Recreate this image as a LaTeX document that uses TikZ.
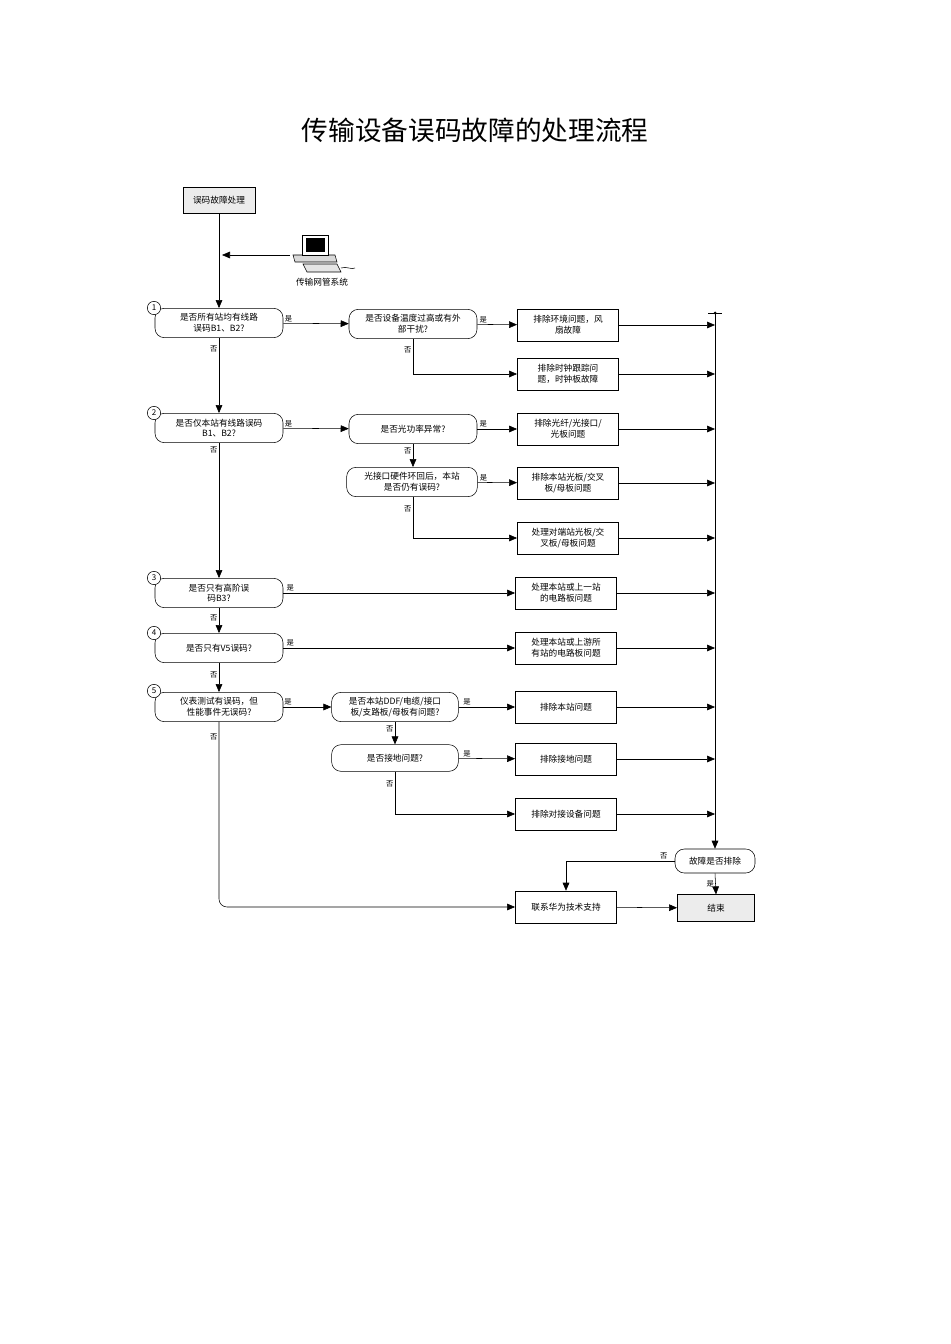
\documentclass[tikz,border=0pt]{standalone}
\usepackage{fontspec}
\setmainfont{Noto Sans CJK SC}
\usetikzlibrary{arrows.meta,positioning}
\begin{document}
\begin{tikzpicture}[x=0.75pt,y=-0.75pt,
  every node/.style={font=\fontsize{6.5pt}{8pt}\selectfont, align=center, inner sep=1pt},
  dec/.style={draw, rounded corners=7pt, minimum width=96pt, minimum height=22pt},
  box/.style={draw, minimum width=76pt, minimum height=24pt},
  gbox/.style={box, fill=gray!15},
  arr/.style={-{Triangle[length=6pt,width=5pt]}, thin},
  lab/.style={font=\fontsize{5.5pt}{6pt}\selectfont},
  num/.style={draw, circle, fill=white, inner sep=0.5pt, minimum size=10pt, font=\fontsize{6pt}{6pt}\selectfont}]
\useasboundingbox (0,0) rectangle (950,1344);
\node[font=\fontsize{20pt}{24pt}\selectfont] (title) at (475,130) {传输设备误码故障的处理流程};
\node[gbox, minimum width=54pt, minimum height=19.5pt] (start) at (219,200) {误码故障处理};
% computer icon
\begin{scope}[shift={(315,250)}]
  \draw[fill=gray!30] (-22,5) -- (20,5) -- (22,12) -- (-20,12) -- cycle;
  \draw[fill=white] (-13,-15) rectangle (13,5);
  \fill[black] (-9,-12) rectangle (10,2);
  \draw[fill=gray!20] (-12,14) -- (22,14) -- (26,22) -- (-8,22) -- cycle;
  \draw (26,18) .. controls (32,16) and (36,20) .. (40,18);
\end{scope}
\coordinate (cpu) at (290,255);
\node (cpulab) at (322,282) {传输网管系统};
\coordinate (cpuin) at (222,255);
\node[dec] (d1) at (219,323) {是否所有站均有线路\\误码B1、B2?};
\node[num] at (154,308) {1};
\node[dec] (d1a) at (413,324) {是否设备温度过高或有外\\部干扰?};
\node[box] (r1) at (568,325) {排除环境问题，风\\扇故障};
\node[box] (r2) at (568,374) {排除时钟跟踪问\\题，时钟板故障};
\node[dec] (d2) at (219,428) {是否仅本站有线路误码\\B1、B2?};
\node[num] at (154,413) {2};
\node[dec] (d2a) at (413,429) {是否光功率异常?};
\node[box] (r3) at (568,429) {排除光纤/光接口/\\光板问题};
\node[dec, minimum width=98pt] (d2b) at (412,482) {光接口硬件环回后，本站\\是否仍有误码?};
\node[box] (r4) at (568,483) {排除本站光板/交叉\\板/母板问题};
\node[box] (r5) at (568,538) {处理对端站光板/交\\叉板/母板问题};
\node[dec] (d3) at (219,593) {是否只有高阶误\\码B3?};
\node[num] at (154,578) {3};
\node[box] (r6) at (566,593) {处理本站或上一站\\的电路板问题};
\node[dec] (d4) at (219,648) {是否只有V5误码?};
\node[num] at (154,633) {4};
\node[box] (r7) at (566,648) {处理本站或上游所\\有站的电路板问题};
\node[dec] (d5) at (219,707) {仪表测试有误码，但\\性能事件无误码?};
\node[num] at (154,691) {5};
\node[dec, minimum width=95pt] (d5a) at (395,707) {是否本站DDF/电缆/接口\\板/支路板/母板有问题?};
\node[box] (r8) at (566,707) {排除本站问题};
\node[dec, minimum width=95pt, minimum height=20pt] (d5b) at (395,758) {是否接地问题?};
\node[box] (r9) at (566,759) {排除接地问题};
\node[box] (r10) at (566,814) {排除对接设备问题};
\node[dec, minimum width=60pt, minimum height=18pt] (e) at (715,861) {故障是否排除};
\node[box] (contact) at (566,907) {联系华为技术支持};
\node[gbox, minimum width=58pt, minimum height=20pt] (end) at (716,908) {结束};
% right collector line
\coordinate (top) at (715,313);
\fill (top) circle (1.5);
\draw (708,313) -- (722,313);
\draw[arr] (top) -- (e.north);
\foreach \r/\y in {r1/325,r2/374,r3/429,r4/483,r5/538,r6/593,r7/648,r8/707,r9/759,r10/814}
  \draw[arr] (\r.east) -- (715,\y);
% connectors
\draw[arr] (start) -- (d1);
\draw[arr] (cpu) -- (cpuin);
\draw[arr] (d1) -- node[lab, above, pos=0.08]{是} (d1a);
\draw[arr] (d1) -- node[lab, left, pos=0.15]{否} (d2);
\draw[arr] (d1a) -- node[lab, above, pos=0.15]{是} (r1);
\draw[arr] (d1a.south) |- node[lab, left, pos=0.15]{否} (r2);
\draw[arr] (d2) -- node[lab, above, pos=0.08]{是} (d2a);
\draw[arr] (d2a) -- node[lab, above, pos=0.15]{是} (r3);
\draw[arr] (d2a.south) -- node[lab, left, pos=0.3]{否} (d2b.north -| d2a.south);
\draw[arr] (d2b) -- node[lab, above, pos=0.15]{是} (r4);
\draw[arr] (d2b.south -| d2a.south) |- node[lab, left, pos=0.15]{否} (r5);
\draw[arr] (d2) -- node[lab, left, pos=0.05]{否} (d3);
\draw[arr] (d3) -- node[lab, above, pos=0.03]{是} (r6);
\draw[arr] (d3) -- node[lab, left, pos=0.4]{否} (d4);
\draw[arr] (d4) -- node[lab, above, pos=0.03]{是} (r7);
\draw[arr] (d4) -- node[lab, left, pos=0.4]{否} (d5);
\draw[arr] (d5) -- node[lab, above, pos=0.1]{是} (d5a);
\draw[arr] (d5a) -- node[lab, above, pos=0.15]{是} (r8);
\draw[arr] (d5a.south) -- node[lab, left, pos=0.3]{否} (d5b.north);
\draw[arr] (d5b) -- node[lab, above, pos=0.15]{是} (r9);
\draw[arr] (d5b.south) |- node[lab, left, pos=0.15]{否} (r10);
\draw[arr, rounded corners=6pt] (d5.south) |- node[lab, left, pos=0.04]{否} (contact.west);
\draw[arr] (e.west) -| node[lab, above, pos=0.05]{否} (contact.north);
\draw[arr] (e.south) -- node[lab, left]{是} (end.north);
\draw[arr] (contact) -- (end);
\end{tikzpicture}
\end{document}
